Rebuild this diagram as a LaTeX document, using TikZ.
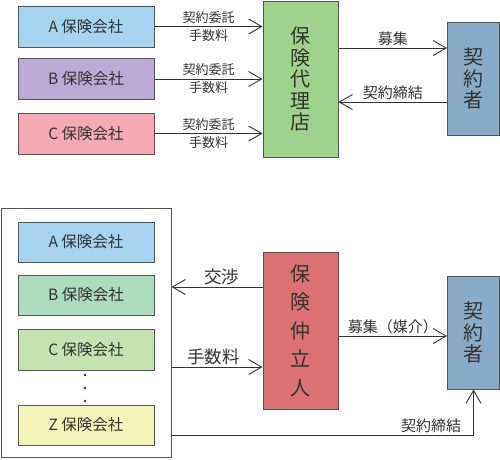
\documentclass[tikz,border=0pt]{standalone}
\usepackage{fontspec}
\newfontfamily\jpfont{Noto Sans CJK JP}
\usetikzlibrary{arrows.meta,positioning,calc}
\definecolor{vtext}{HTML}{333333}
\definecolor{vline}{HTML}{555555}
\definecolor{cblue}{HTML}{A8D3EF}
\definecolor{cpurple}{HTML}{BCA9D4}
\definecolor{cpink}{HTML}{F5A9B5}
\definecolor{cgreen}{HTML}{A0D28D}
\definecolor{csteel}{HTML}{8AABC7}
\definecolor{cmint}{HTML}{AEDABD}
\definecolor{cleaf}{HTML}{C4E2B2}
\definecolor{ccream}{HTML}{F5F4B8}
\definecolor{cred}{HTML}{DC7173}
\tikzset{
  box/.style={draw=vline,line width=1pt,minimum width=136pt,minimum height=41pt,inner sep=0pt,font=\jpfont\fontsize{15.5}{18}\selectfont,text=vtext},
  tall/.style={draw=vline,line width=1pt,inner sep=0pt,align=center,font=\jpfont\fontsize{20}{21.5}\selectfont,text=vtext},
  frame/.style={draw=vline,line width=1pt,inner sep=0pt},
  arr/.style={-{Straight Barb[length=13pt,width=15pt]},line width=0.9pt,draw=vtext},
  lbl/.style={font=\jpfont\fontsize{15}{18}\selectfont,text=vtext,inner sep=1.5pt},
  blbl/.style={font=\jpfont\fontsize{17.5}{20}\selectfont,text=vtext,inner sep=1.5pt},
  slbl/.style={font=\jpfont\fontsize{13}{15}\selectfont,text=vtext,inner sep=2.5pt},
}
\begin{document}
\begin{tikzpicture}[x=1pt,y=-1pt]
\useasboundingbox (0,0) rectangle (500,459);
% agency
\node[box,fill=cblue] (ta) at (86,26.5) {A 保険会社};
\node[box,fill=cpurple] (tb) at (86,79) {B 保険会社};
\node[box,fill=cpink] (tc) at (86,133.5) {C 保険会社};
\node[tall,fill=cgreen,minimum width=75pt,minimum height=156pt] (agency) at (300.5,79) {保\\険\\代\\理\\店};
\node[tall,fill=csteel,minimum width=52pt,minimum height=113pt] (cust1) at (473.5,78.5) {契\\約\\者};
\foreach \c in {ta,tb,tc}
  \draw[arr] (\c.east) -- (\c.east -| agency.west)
    node[slbl,midway,above] {契約委託} node[slbl,midway,below] {手数料};
\draw[arr] ([yshift=30.5pt]agency.east |- cust1.west) -- ([yshift=30.5pt]cust1.west)
  node[lbl,midway,above] {募集};
\draw[arr] ([yshift=-23.5pt]cust1.west) -- ([yshift=-23.5pt]cust1.west -| agency.east)
  node[lbl,midway,above] {契約締結};
% broker
\node[frame,minimum width=170pt,minimum height=249pt] (frame) at (86,332.5) {};
\node[box,fill=cblue,minimum height=40pt] (ba) at (86,242) {A 保険会社};
\node[box,fill=cmint,minimum height=40pt] (bb) at (86,295) {B 保険会社};
\node[box,fill=cleaf] (bc) at (86,349.5) {C 保険会社};
\node[box,fill=ccream,minimum height=40pt] (bz) at (86,425) {Z 保険会社};
\foreach \y in {375,388,401}
  \fill[vtext] (85,\y) circle (1.3pt);
\node[tall,fill=cred,minimum width=75pt,minimum height=157pt,font=\jpfont\fontsize{20}{28.5}\selectfont] (broker) at (300.5,330.5) {保\\険\\仲\\立\\人};
\node[tall,fill=csteel,minimum width=52pt,minimum height=113pt] (cust2) at (473.5,332.5) {契\\約\\者};
\draw[arr] ([yshift=43.5pt]broker.west) -- ([yshift=43.5pt]broker.west -| frame.east)
  node[blbl,pos=0.45,above] {交渉};
\draw[arr] ([yshift=-36.5pt]broker.west -| frame.east) -- ([yshift=-36.5pt]broker.west)
  node[blbl,pos=0.46,above] {手数料};
\draw[arr] ([yshift=-5.5pt]broker.east) -- ([yshift=-5.5pt]broker.east -| cust2.west)
  node[lbl,midway,above] {募集（媒介）};
\draw[arr] ([yshift=-102.5pt]frame.east) -| (cust2.south)
  node[lbl,pos=0.43,above] {契約締結};
\end{tikzpicture}
\end{document}
